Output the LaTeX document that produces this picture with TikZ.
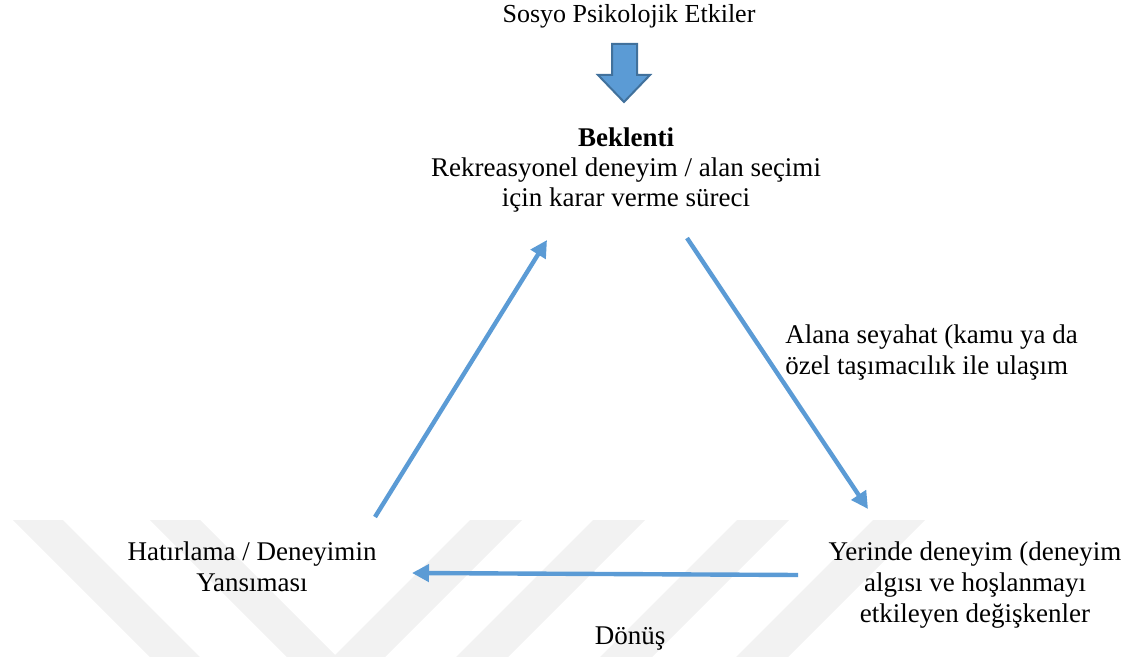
\documentclass[tikz,border=0pt]{standalone}
\usepackage{fontspec}
\setmainfont{Liberation Serif}
\usetikzlibrary{arrows.meta,positioning}
\definecolor{flowblue}{HTML}{5B9BD5}
\definecolor{flowedge}{HTML}{41719C}
\definecolor{wmgray}{HTML}{F2F2F2}

\begin{document}
\begin{tikzpicture}[x=0.5pt,y=-0.5pt,
    lbl/.style={inner sep=0pt, align=center, font=\fontsize{13.5}{15.5}\selectfont},
    flow/.style={draw=flowblue, line width=2.2pt, -{Triangle[length=8.5pt,width=8.5pt]}}]
    \useasboundingbox (0,0) rectangle (1123,657);

    % watermark stripes
    \foreach \a in {13,150}
        \fill[wmgray] (\a,520) -- ++(50,0) -- ++(137,137) -- ++(-50,0) -- cycle;
    \foreach \a in {470,593,737,873}
        \fill[wmgray] (\a,520) -- ++(52,0) -- ++(-137,137) -- ++(-52,0) -- cycle;

    \node[lbl, font=\fontsize{13}{15.5}\selectfont] (sosyo) at (629,16) {Sosyo Psikolojik Etkiler};
    \draw[flowedge, line width=1pt, fill=flowblue] (612,44) -- (637,44) -- (637,75) -- (650,75)
        -- (624,102) -- (598,75) -- (612,75) -- cycle;

    \node[lbl, font=\fontsize{13.5}{15}\selectfont] (beklenti) at (626,170) {\textbf{Beklenti}\\Rekreasyonel deneyim / alan seçimi\\için karar verme süreci};
    \node[lbl] (hatirlama) at (252,567) {Hatırlama / Deneyimin\\Yansıması};
    \node[lbl] (yerinde) at (975,585) {Yerinde deneyim (deneyim\\algısı ve hoşlanmayı\\etkileyen değişkenler};
    \node[lbl, anchor=west, align=left] (seyahat) at (785,353) {Alana seyahat (kamu ya da\\özel taşımacılık ile ulaşım};
    \node[lbl] (donus) at (630,639) {Dönüş};

    \coordinate (beklenti-out) at (687,238);
    \coordinate (yerinde-in) at (868,509);
    \coordinate (yerinde-out) at (798,575);
    \coordinate (hatirlama-in) at (412,573);
    \coordinate (hatirlama-out) at (375,517);
    \coordinate (beklenti-in) at (547,240);

    \draw[flow] (beklenti-out) -- (yerinde-in);
    \draw[flow] (yerinde-out) -- (hatirlama-in);
    \draw[flow] (hatirlama-out) -- (beklenti-in);
\end{tikzpicture}
\end{document}
